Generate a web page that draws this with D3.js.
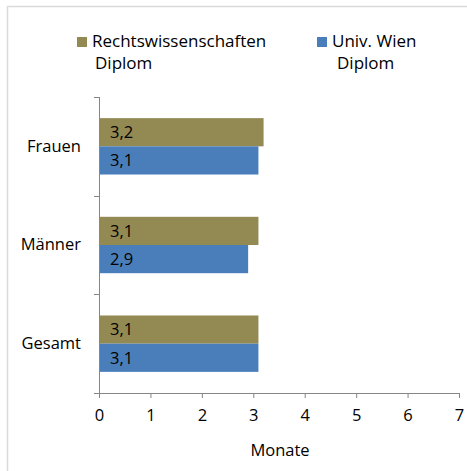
<!DOCTYPE html>
<html>
<head>
<meta charset="utf-8">
<script src="https://cdn.jsdelivr.net/npm/d3@7"></script>
<style>
  body { margin: 0; background: #fff; }
  text { font-family: "Open Sans", "Noto Sans", sans-serif; fill: #000; }
</style>
</head>
<body>
<div id="chart"></div>
<script>
const width = 467;
const height = 471;

const categories = ["Frauen", "Männer", "Gesamt"];
const seriesNames = ["Rechtswissenschaften Diplom", "Univ. Wien Diplom"];
const rechtValues = [3.2, 3.1, 3.1];
const wienValues = [3.1, 2.9, 3.1];
const xTicks = [0, 1, 2, 3, 4, 5, 6, 7];
const colors = ["#938953", "#4a7ebb"];

const margin = { top: 97, left: 99, right: 8, bottom: 78 };
const fs = "16.5px";

const svg = d3.select("#chart")
  .append("svg")
  .attr("width", width)
  .attr("height", height);

// outer frame (right and bottom edges fall outside the picture)
svg.append("rect")
  .attr("x", 7.5).attr("y", 6.5)
  .attr("width", width + 10).attr("height", height + 10)
  .attr("fill", "none")
  .attr("stroke", "#d9d9d9")
  .attr("stroke-width", 1.5);

const x = d3.scaleLinear()
  .domain([0, 7])
  .range([margin.left, width - margin.right]);

const y = d3.scaleBand()
  .domain(categories)
  .range([margin.top, height - margin.bottom]);

const inner = d3.scaleBand()
  .domain([0, 1])
  .range([0, y.bandwidth()])
  .paddingOuter(0.75)
  .paddingInner(0);

const axisColor = "#868686";

// x axis
const xAxis = svg.append("g")
  .attr("transform", `translate(0,${height - margin.bottom})`)
  .call(d3.axisBottom(x).tickValues(xTicks).tickSize(5).tickPadding(11).tickFormat(d3.format("d")));
xAxis.select(".domain").attr("stroke", axisColor).attr("d", `M${margin.left - 5},0.5H${width - margin.right}`);
xAxis.selectAll(".tick line").attr("stroke", axisColor);
xAxis.selectAll(".tick text").style("font-size", fs).attr("fill", "#000");

// y axis
const yAxis = svg.append("g")
  .attr("transform", `translate(${margin.left},0)`)
  .call(d3.axisLeft(y).tickSize(0).tickPadding(18));
yAxis.select(".domain").attr("stroke", axisColor).attr("d", `M0.5,${margin.top}V${height - margin.bottom}`);
yAxis.selectAll(".tick text").style("font-size", fs).attr("fill", "#000");
// boundary ticks between categories
yAxis.selectAll(".bound")
  .data(categories.map(c => y(c)).concat([height - margin.bottom]))
  .enter().append("line")
  .attr("x1", -5).attr("x2", 0)
  .attr("y1", d => Math.round(d) + 0.5).attr("y2", d => Math.round(d) + 0.5)
  .attr("stroke", axisColor);

// bars
const series = [rechtValues, wienValues];
series.forEach((vals, si) => {
  const g = svg.append("g");
  g.selectAll("rect")
    .data(vals)
    .enter().append("rect")
    .attr("x", x(0) + 1)
    .attr("y", (d, i) => y(categories[i]) + inner(si))
    .attr("width", d => x(d) - x(0) - 1)
    .attr("height", inner.bandwidth())
    .attr("fill", colors[si]);
  g.selectAll("text")
    .data(vals)
    .enter().append("text")
    .attr("x", x(0) + 11)
    .attr("y", (d, i) => y(categories[i]) + inner(si) + inner.bandwidth() / 2)
    .attr("dy", "0.35em")
    .style("font-size", fs)
    .text(d => d3.format(".1f")(d).replace(".", ","));
});

// axis title
svg.append("text")
  .attr("x", 280)
  .attr("y", 450)
  .attr("dy", "0.35em")
  .attr("text-anchor", "middle")
  .style("font-size", fs)
  .text("Monate");

// legend
const legendItems = [
  { x: 77, lines: ["Rechtswissenschaften", "Diplom"], indent: 18 },
  { x: 317, lines: ["Univ. Wien", "Diplom"], indent: 20 }
];
const legend = svg.append("g");
legendItems.forEach((item, i) => {
  legend.append("rect")
    .attr("x", item.x).attr("y", 37)
    .attr("width", 10).attr("height", 10)
    .attr("fill", colors[i]);
  const t = legend.append("text")
    .style("font-size", "17px");
  t.append("tspan").attr("x", item.x + 15).attr("y", 47).text(item.lines[0]);
  t.append("tspan")
    .attr("x", item.x + item.indent)
    .attr("y", 69)
    .text(item.lines[1]);
});
</script>
</body>
</html>
